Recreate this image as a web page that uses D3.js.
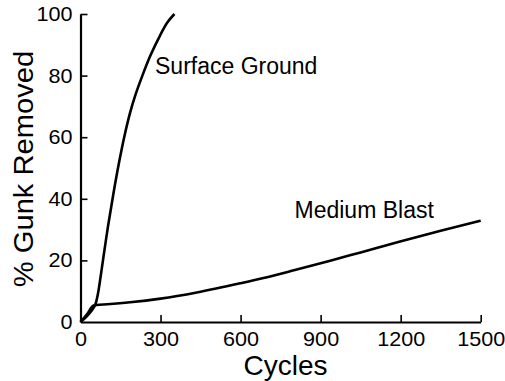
<!DOCTYPE html>
<html>
<head>
<meta charset="utf-8">
<script src="https://cdn.jsdelivr.net/npm/d3@7"></script>
<style>
  html, body { margin: 0; padding: 0; background: #fff; }
  svg { display: block; }
  text { font-family: "Liberation Sans", Arial, Helvetica, sans-serif; fill: #000; }
</style>
</head>
<body>
<svg id="chart" width="505" height="381"></svg>
<script>
// ---- data ----
const xTicks = [0, 300, 600, 900, 1200, 1500];
const yTicks = [0, 20, 40, 60, 80, 100];
const xLabel = "Cycles";
const yLabel = "% Gunk Removed";

const surfaceCycles = [0, 20, 40, 55, 65, 75, 85, 103, 123, 145, 165, 186, 205, 232, 262, 298, 326, 352];
const surfaceValues = [0, 1.5, 3.5, 5.5, 9, 14.5, 20.5, 31, 41.5, 52, 60.5, 68, 73.5, 80, 86.5, 93, 97.3, 100];
const surfaceName = "Surface Ground";

const blastCycles = [0, 25, 48, 60, 100, 186, 300, 436, 600, 686, 800, 936, 1050, 1198, 1350, 1500];
const blastValues = [0, 2.6, 5.3, 5.5, 5.75, 6.4, 7.6, 9.6, 12.6, 14.3, 16.8, 19.9, 22.6, 26.1, 29.6, 32.9];
const blastName = "Medium Blast";

// ---- layout ----
const svg = d3.select("#chart");
const x = d3.scaleLinear().domain([0, 1500]).range([80.5, 480.7]);
const y = d3.scaleLinear().domain([0, 100]).range([322, 14]);

const tickStretch = 1.08;

// x axis
const gx = svg.append("g")
  .attr("transform", `translate(0,${y(0)})`)
  .call(d3.axisBottom(x).tickValues(xTicks).tickFormat(d3.format("d"))
        .tickSizeInner(-7).tickSizeOuter(0).tickPadding(10));
gx.select(".domain").attr("stroke", "#000").attr("stroke-width", 2.2);
gx.selectAll(".tick line").attr("stroke", "#000").attr("stroke-width", 1.6);
gx.selectAll(".tick").filter(d => d === 0).select("line").remove();
gx.selectAll(".tick text")
  .attr("font-size", 20)
  .attr("font-family", "Liberation Sans, Arial, sans-serif")
  .attr("fill", "#000")
  .attr("transform", `scale(${tickStretch},1)`);

// y axis
const gy = svg.append("g")
  .attr("transform", `translate(${x(0)},0)`)
  .call(d3.axisLeft(y).tickValues(yTicks).tickFormat(d3.format("d"))
        .tickSizeInner(-7).tickSizeOuter(0).tickPadding(8));
gy.select(".domain").attr("stroke", "#000").attr("stroke-width", 2.2);
gy.selectAll(".tick line").attr("stroke", "#000").attr("stroke-width", 1.6);
gy.selectAll(".tick").filter(d => d === 0).select("line").remove();
gy.selectAll(".tick text")
  .attr("font-size", 20)
  .attr("font-family", "Liberation Sans, Arial, sans-serif")
  .attr("fill", "#000")
  .each(function() {
    const t = d3.select(this);
    t.attr("x", +t.attr("x") / tickStretch)
     .attr("transform", `scale(${tickStretch},1)`);
  });

// axis titles
svg.append("text")
  .attr("x", 285.5).attr("y", 375)
  .attr("text-anchor", "middle")
  .attr("font-size", 28)
  .text(xLabel);

svg.append("text")
  .attr("transform", `translate(33,169) rotate(-90) scale(1.06,1)`)
  .attr("text-anchor", "middle")
  .attr("font-size", 27.5)
  .text(yLabel);

// lines
const surfaceLine = d3.line().x(d => x(d[0])).y(d => y(d[1])).curve(d3.curveCatmullRom.alpha(0.5));
const blastLine = d3.line().x(d => x(d[0])).y(d => y(d[1])).curve(d3.curveMonotoneX);
const surface = surfaceCycles.map((c, i) => [c, surfaceValues[i]]);
const blast = blastCycles.map((c, i) => [c, blastValues[i]]);

svg.append("path").datum(blast)
  .attr("fill", "none").attr("stroke", "#000").attr("stroke-width", 2.6)
  .attr("stroke-linejoin", "round").attr("d", blastLine);
svg.append("path").datum(surface)
  .attr("fill", "none").attr("stroke", "#000").attr("stroke-width", 2.6)
  .attr("stroke-linejoin", "round").attr("d", surfaceLine);

// series labels
svg.append("text").attr("x", 155).attr("y", 74)
  .attr("font-size", 23).text(surfaceName);
svg.append("text").attr("x", 294.5).attr("y", 217.5)
  .attr("font-size", 23).text(blastName);
</script>
</body>
</html>
